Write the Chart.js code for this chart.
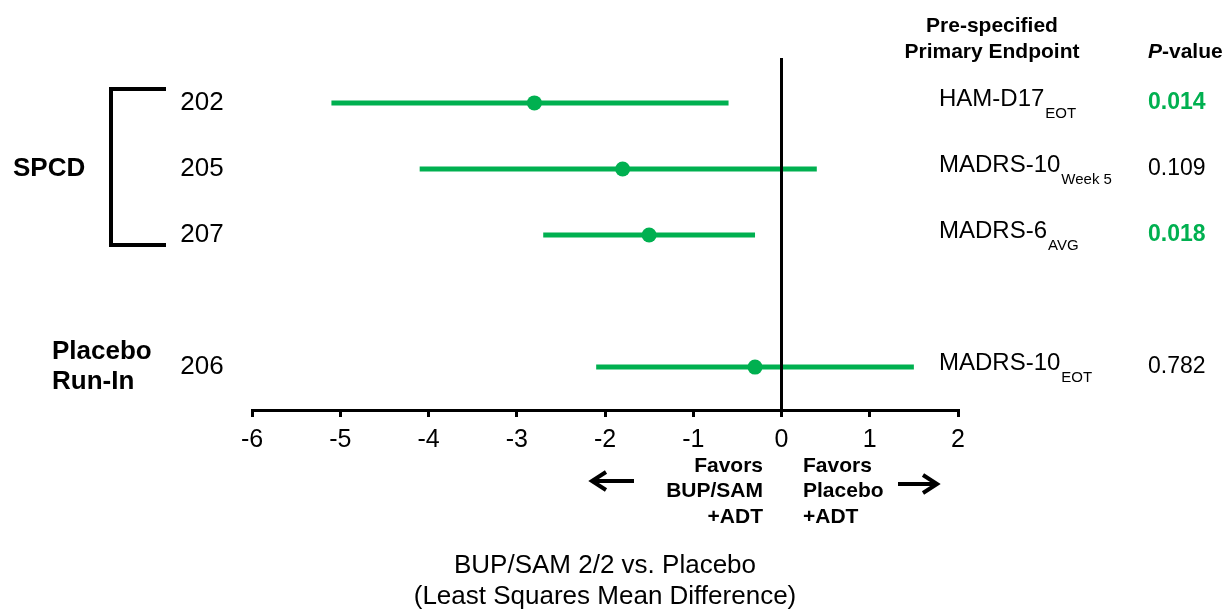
<!DOCTYPE html>
<html>
<head>
<meta charset="utf-8">
<script src="https://cdn.jsdelivr.net/npm/chart.js@4/dist/chart.umd.min.js"></script>
<style>
  html, body { margin: 0; padding: 0; background: #fff; }
</style>
</head>
<body>
<canvas id="forest" width="1225" height="609"></canvas>
<script>
// Study rows, top to bottom (row 4 is left empty as a spacer)
const studies      = ['202', '205', '207', '206'];
const rowPos       = [1, 2, 3, 5];
const estimates    = [-2.8, -1.8, -1.5, -0.3];
const ciLow        = [-5.1, -4.1, -2.7, -2.1];
const ciHigh       = [-0.6, 0.4, -0.3, 1.5];
const endpoints    = ['HAM-D17', 'MADRS-10', 'MADRS-6', 'MADRS-10'];
const endpointSubs = ['EOT', 'Week 5', 'AVG', 'EOT'];
const pValues      = ['0.014', '0.109', '0.018', '0.782'];
const xTicks       = [-6, -5, -4, -3, -2, -1, 0, 1, 2];

const GREEN = '#00b050';
const FONT = "'Liberation Sans', Arial, sans-serif";
const Y_MIN = 0.32, Y_MAX = 5.65;

function drawArrow(ctx, from, to, y) {
    const dir = Math.sign(to - from);
    ctx.beginPath();
    ctx.moveTo(from, y);
    ctx.lineTo(to, y);
    ctx.moveTo(to - dir * 14, y - 9);
    ctx.lineTo(to, y);
    ctx.lineTo(to - dir * 14, y + 9);
    ctx.stroke();
}

// Text, bracket and arrows around the plot
const annotations = {
    id: 'annotations',
    afterDraw(chart) {
        const { ctx, scales: { x, y } } = chart;
        ctx.save();
        ctx.fillStyle = '#000';
        ctx.strokeStyle = '#000';

        // study numbers
        ctx.textBaseline = 'middle';
        ctx.textAlign = 'center';
        ctx.font = `26px ${FONT}`;
        studies.forEach((s, i) => ctx.fillText(s, 202, y.getPixelForValue(rowPos[i])));

        // group labels
        ctx.textAlign = 'left';
        ctx.font = `bold 26px ${FONT}`;
        ctx.fillText('SPCD', 13, y.getPixelForValue(rowPos[1]));
        const yRunIn = y.getPixelForValue(rowPos[3]);
        ctx.fillText('Placebo', 52, yRunIn - 15);
        ctx.fillText('Run-In', 52, yRunIn + 15);

        // SPCD bracket
        const bTop = y.getPixelForValue(rowPos[0]) - 14;
        const bBot = y.getPixelForValue(rowPos[2]) + 10;
        ctx.lineWidth = 4;
        ctx.beginPath();
        ctx.moveTo(166, bTop);
        ctx.lineTo(111, bTop);
        ctx.lineTo(111, bBot);
        ctx.lineTo(166, bBot);
        ctx.stroke();

        // column headers
        ctx.textAlign = 'center';
        ctx.font = `bold 21px ${FONT}`;
        ctx.fillText('Pre-specified', 992, 26);
        ctx.fillText('Primary Endpoint', 992, 52);
        ctx.textAlign = 'left';
        ctx.font = `italic bold 21px ${FONT}`;
        ctx.fillText('P', 1148, 52);
        const pw = ctx.measureText('P').width;
        ctx.font = `bold 21px ${FONT}`;
        ctx.fillText('-value', 1148 + pw, 52);

        // endpoints with subscripts
        ctx.textBaseline = 'alphabetic';
        endpoints.forEach((e, i) => {
            const ry = y.getPixelForValue(rowPos[i]);
            ctx.font = `24px ${FONT}`;
            ctx.fillText(e, 939, ry + 3);
            const w = ctx.measureText(e).width;
            ctx.font = `15px ${FONT}`;
            ctx.fillText(endpointSubs[i], 939 + w + 1, ry + 15);
        });

        // p-values, significant ones in bold green
        ctx.textBaseline = 'middle';
        pValues.forEach((p, i) => {
            const sig = parseFloat(p) < 0.05;
            ctx.fillStyle = sig ? GREEN : '#000';
            ctx.font = `${sig ? 'bold ' : ''}23px ${FONT}`;
            ctx.fillText(p, 1148, y.getPixelForValue(rowPos[i]));
        });
        ctx.fillStyle = '#000';

        // favours captions and arrows
        ctx.font = `bold 21px ${FONT}`;
        ctx.textAlign = 'right';
        ['Favors', 'BUP/SAM', '+ADT'].forEach((t, k) => ctx.fillText(t, 763, 466 + k * 25.5));
        ctx.textAlign = 'left';
        ['Favors', 'Placebo', '+ADT'].forEach((t, k) => ctx.fillText(t, 803, 466 + k * 25.5));
        ctx.lineWidth = 4;
        drawArrow(ctx, 634, 592, 481);
        drawArrow(ctx, 898, 937, 484);

        // axis title
        ctx.textAlign = 'center';
        ctx.font = `26px ${FONT}`;
        const cx = (x.left + x.right) / 2;
        ctx.fillText('BUP/SAM 2/2 vs. Placebo', cx, 566);
        ctx.fillText('(Least Squares Mean Difference)', cx, 597);
        ctx.restore();
    }
};

const ciSets = studies.map((s, i) => ({
    label: s,
    data: [{ x: ciLow[i], y: rowPos[i] }, { x: ciHigh[i], y: rowPos[i] }],
    showLine: true,
    borderColor: GREEN,
    borderWidth: 5,
    borderCapStyle: 'butt',
    pointRadius: 0
}));

const pointSet = {
    label: 'LS mean difference',
    data: estimates.map((v, i) => ({ x: v, y: rowPos[i] })),
    pointRadius: 7.5,
    pointHoverRadius: 7.5,
    backgroundColor: GREEN,
    borderWidth: 0
};

const zeroLine = {
    label: 'no difference',
    data: [{ x: 0, y: Y_MIN }, { x: 0, y: Y_MAX }],
    showLine: true,
    borderColor: '#000',
    borderWidth: 3,
    pointRadius: 0
};

new Chart(document.getElementById('forest'), {
    type: 'scatter',
    data: { datasets: [pointSet, zeroLine, ...ciSets] },
    options: {
        responsive: false,
        animation: false,
        devicePixelRatio: 1,
        layout: { padding: { left: 252, right: 267, top: 58, bottom: 0 } },
        plugins: {
            legend: { display: false },
            tooltip: { enabled: false }
        },
        scales: {
            x: {
                type: 'linear',
                position: 'bottom',
                min: -6,
                max: 2,
                afterFit(scale) { scale.height = 199; },
                afterBuildTicks(scale) { scale.ticks = xTicks.map(v => ({ value: v })); },
                border: { display: true, color: '#000', width: 3 },
                grid: { drawOnChartArea: false, drawTicks: true, tickLength: 7, color: '#000', lineWidth: 3 },
                ticks: {
                    color: '#000',
                    font: { size: 25, family: FONT },
                    padding: 8,
                    maxRotation: 0,
                    autoSkip: false
                }
            },
            y: {
                type: 'linear',
                min: Y_MIN,
                max: Y_MAX,
                reverse: true,
                display: false
            }
        }
    },
    plugins: [annotations]
});
</script>
</body>
</html>
